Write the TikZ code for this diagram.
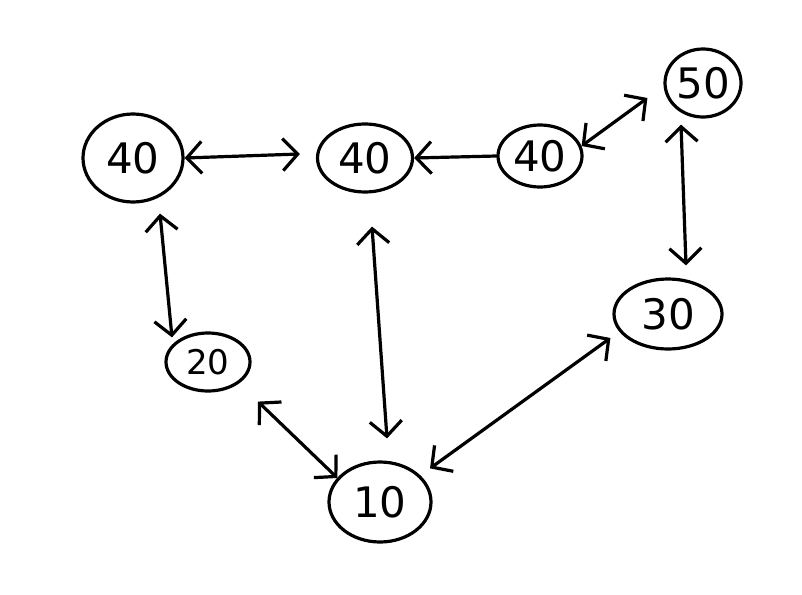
\documentclass[tikz,border=0pt]{standalone}
\usepackage{fontspec}
\setmainfont{DejaVu Sans}
\usetikzlibrary{shapes.geometric,arrows.meta,calc}
\begin{document}
\begin{tikzpicture}[x=1pt,y=-1pt,line width=3.2pt,line cap=round,
  blob/.style={draw,ellipse,inner sep=0pt,font=\fontsize{42}{42}\selectfont},
  link/.style={{Straight Barb[length=15pt,width=32pt]}-{Straight Barb[length=15pt,width=32pt]}}]
\useasboundingbox (0,0) rectangle (802,594);
\node[blob,minimum width=100pt,minimum height=88pt] (a) at (133,158) {40};
\node[blob,minimum width=95pt,minimum height=68pt] (b) at (365,158) {40};
\node[blob,minimum width=84pt,minimum height=62pt] (c) at (540,156) {40};
\node[blob,minimum width=76pt,minimum height=68pt] (d) at (703,83) {50};
\node[blob,minimum width=108pt,minimum height=70pt] (e) at (668,314) {30};
\node[blob,minimum width=84pt,minimum height=58pt,font=\fontsize{34}{34}\selectfont] (f) at (208,362) {20};
\node[blob,minimum width=102pt,minimum height=80pt] (g) at (380,502) {10};
\draw[link] (a.east) -- ($(b.west)+(-16,-4)$);
\draw[-{Straight Barb[length=15pt,width=32pt]}] (c.west) -- (b.east);
\draw[link] ($(c.east)+(-2,-10)$) -- ($(d.west)+(-16,15)$);
\draw[link] ($(d.south)+(-22,6)$) -- ($(e.north)+(18,-12)$);
\draw[link] ($(a.south)+(27,10)$) -- ($(f.north)+(-36,6)$);
\draw[link] ($(b.south)+(7,33)$) -- ($(g.north)+(7,-22)$);
\draw[link] ($(f.south)+(50,9)$) -- ($(g.west)+(10,-24)$);
\draw[link] ($(g.north)+(50,8)$) -- ($(e.west)+(-2,24)$);
\end{tikzpicture}
\end{document}
